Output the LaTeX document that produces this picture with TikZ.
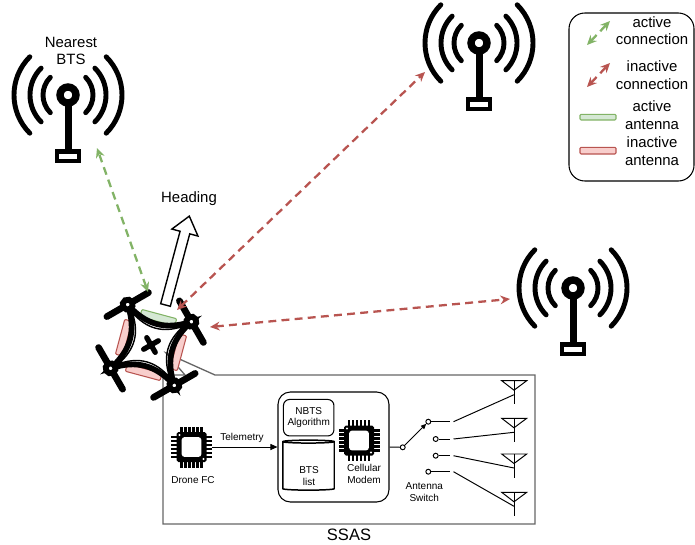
\documentclass[tikz,border=0pt]{standalone}
\usepackage{fontspec}
\setmainfont{Liberation Sans}
\usetikzlibrary{positioning,arrows.meta,shapes.geometric}

\definecolor{linkgreen}{HTML}{82B366}
\definecolor{linkred}{HTML}{B85450}
\definecolor{antgreen}{HTML}{D5E8D4}
\definecolor{antred}{HTML}{F8CECC}

\tikzset{
  % base station mast with radio waves
  bts/.pic={
    \foreach \r in {25,38,54} {
      \draw[line width=2.8pt, line cap=round] (-45:\r) arc[start angle=-45, end angle=45, radius=\r];
      \draw[line width=2.8pt, line cap=round] (135:\r) arc[start angle=135, end angle=225, radius=\r];
    }
    \draw[line width=4.2pt] (0,0) circle[radius=8];
    \fill (-3.5,11) rectangle (3.5,55);
    \fill (-13,54) rectangle (13,68);
    \fill[white] (-9,58.5) rectangle (9,63.5);
  },
  % microcontroller chip
  chip/.pic={
    \foreach \p in {-10,-6,...,10} {
      \draw[line width=1.2pt] (\p,-14) -- (\p,-20.5);
      \draw[line width=1.2pt] (\p,14) -- (\p,20.5);
      \draw[line width=1.2pt] (-14,\p) -- (-20.5,\p);
      \draw[line width=1.2pt] (14,\p) -- (20.5,\p);
    }
    \fill[rounded corners=1pt] (-15,-15) rectangle (15,15);
    \fill[white, rounded corners=1.5pt] (-9.8,-9.8) rectangle (9.8,9.8);
    \fill[white] (-12,-12) circle[radius=1.1] (12,12) circle[radius=1.1];
  },
}

\begin{document}
\begin{tikzpicture}[x=0.02cm, y=-0.02cm,
  lbl/.style={font=\fontsize{8.5}{9.9}\selectfont, align=center, inner sep=0pt},
  tiny/.style={font=\fontsize{5.7}{6.6}\selectfont, align=center, inner sep=0pt},
  link/.style={dash pattern=on 4.5pt off 3pt, line width=1.3pt,
    {Stealth[length=5.5pt,width=5pt,inset=1.8pt]}-{Stealth[length=5.5pt,width=5pt,inset=1.8pt]}},
  active/.style={link, linkgreen},
  inactive/.style={link, linkred},
  antenna/.style={line width=0.6pt, rounded corners=0.6pt},
  wire/.style={line width=0.55pt},
  contact/.style={circle, draw, line width=0.55pt, fill=white, inner sep=0pt, minimum size=2.8pt}
]
\useasboundingbox (0,0) rectangle (695,544);

% base stations
\pic at (68,95) {bts};
\pic at (479,43) {bts};
\pic at (573,288) {bts};
\node[lbl] (nearest) at (71,51) {Nearest\\BTS};

% legend
\draw[line width=0.6pt, rounded corners=9pt] (569,13) rectangle (694,181);
\coordinate (lga1) at (587,45);
\coordinate (lga2) at (610,21);
\coordinate (lgi1) at (587,87);
\coordinate (lgi2) at (610,63);
\draw[active] (lga1) -- (lga2);
\draw[inactive] (lgi1) -- (lgi2);
\draw[antenna, draw=linkgreen, fill=antgreen] (580,114.3) rectangle (616,120);
\draw[antenna, draw=linkred, fill=antred] (580,147.3) rectangle (616,154);
\node[lbl] (lgact) at (652,30.5) {active\\connection};
\node[lbl] (lginact) at (652,75) {inactive\\connection};
\node[lbl] (lgant) at (652,115.3) {active\\antenna};
\node[lbl] (lgoff) at (652,151.3) {inactive\\antenna};

% SSAS block with callout to the drone
\draw[black!60, line width=0.75pt] (163,524) -- (163,375) -- (185,375) -- (166,353)
  -- (215,375) -- (535,375) -- (535,524) -- cycle;
\node[font=\fontsize{9.4}{11}\selectfont, inner sep=0pt] (ssas) at (349,535) {SSAS};

% heading arrow
\begin{scope}[shift={(165.5,305)}, rotate=-15]
  \draw[line width=0.8pt, fill=white] (-5,0) -- (-5,-75) -- (-13.5,-75) -- (0,-92)
    -- (13.5,-75) -- (5,-75) -- (5,0) -- cycle;
\end{scope}
\node[lbl] (heading) at (189,199) {Heading};

% drone
\begin{scope}[shift={(151,345)}, rotate=-15]
  \draw[antenna, draw=linkgreen, fill=antgreen] (-18,-32) rectangle (18,-24.5);
  \draw[antenna, draw=linkred, fill=antred] (-18,24.5) rectangle (18,32);
  \draw[antenna, draw=linkred, fill=antred] (24.5,-18) rectangle (32,18);
  \draw[antenna, draw=linkred, fill=antred] (-32,-18) rectangle (-24.5,18);
  \foreach \w/\s in {3.2pt/1, 0.8pt/0.8} {
    \draw[line width=\w, scale=\s] (-33,-33) .. controls (-10,-18) and (10,-18) .. (33,-33)
      .. controls (18,-10) and (18,10) .. (33,33)
      .. controls (10,18) and (-10,18) .. (-33,33)
      .. controls (-18,10) and (-18,-10) .. (-33,-33);
  }
  \draw[line width=3pt, line cap=round] (-6,-6) -- (6,6) (-6,6) -- (6,-6);
  \foreach \sx/\sy in {1/1, 1/-1, -1/1, -1/-1} {
    \draw[line width=3.8pt, line cap=round] ({33*\sx-17*\sy},{33*\sy+17*\sx}) -- ({33*\sx+17*\sy},{33*\sy-17*\sx});
    \draw[line width=3.3pt, fill=white] ({33*\sx},{33*\sy}) circle[radius=5];
  }
\end{scope}

% links to the base stations
\coordinate (dnw) at (148,292);
\coordinate (dne) at (177,310);
\coordinate (de) at (210,327);
\coordinate (btsa) at (97,148);
\coordinate (btsb) at (425,72);
\coordinate (btsc) at (510,299);
\draw[active] (dnw) -- (btsa);
\draw[inactive] (dne) -- (btsb);
\draw[inactive] (de) -- (btsc);

% flight controller
\node[minimum size=0.82cm, inner sep=0pt] (fc) at (191.5,447) {};
\pic at (fc) {chip};
\node[tiny] (fclbl) at (193,480) {Drone FC};

% modem block
\node[draw, rounded corners=7pt, minimum width=2.22cm, minimum height=2.2cm, line width=0.6pt] (modem) at (333.5,447) {};
\node[draw, tiny, rounded corners=3.5pt, minimum width=1.01cm, minimum height=0.73cm, line width=0.6pt] (nbts) at (308.7,417.7) {NBTS\\Algorithm};
\node[cylinder, draw, shape border rotate=90, aspect=0.25, minimum width=1.03cm, minimum height=1cm, line width=0.85pt] (btslist) at (308.5,466.7) {};
\node[tiny] (btstxt) at (309,476) {BTS\\list};
\node[minimum size=0.82cm, inner sep=0pt] (cell) at (359,440.5) {};
\pic at (cell) {chip};
\node[tiny] (celllbl) at (364,474) {Cellular\\Modem};

\draw[wire, -{Triangle[length=4pt,width=3.4pt]}] (fc.east) -- (modem.west);
\node[tiny] (telem) at (242,438) {Telemetry};

% antenna switch
\node[contact] (c0) at (402.7,447.3) {};
\node[contact] (c1) at (428.3,421.7) {};
\node[contact] (c2) at (435.7,439) {};
\node[contact] (c3) at (435.7,455.7) {};
\node[contact] (c4) at (428.3,471.7) {};
\draw[wire] (modem.east) -- (c0);
\draw[wire, -{Triangle[length=3pt,width=2.6pt]}] (c0) -- (c1);
\node[tiny] (swlbl) at (424.3,492) {Antenna\\Switch};

% antennas and feed lines
\foreach \i/\y/\t in {1/421.7/380.7, 2/439/418.3, 3/455.7/454, 4/471.7/492.3} {
  \coordinate (s\i) at (450,\y);
  \coordinate (f\i) at (453.5,\y);
  \coordinate (ant\i) at (514,\t+14);
  \draw[wire] (c\i) -- (s\i);
  \draw[wire] (f\i) -- (ant\i);
  \draw[wire] (501.7,\t) -- (526.7,\t) -- (514,\t+9.5) -- cycle;
  \draw[wire] (514,\t) -- (514,\t+23.5);
}
\end{tikzpicture}
\end{document}
